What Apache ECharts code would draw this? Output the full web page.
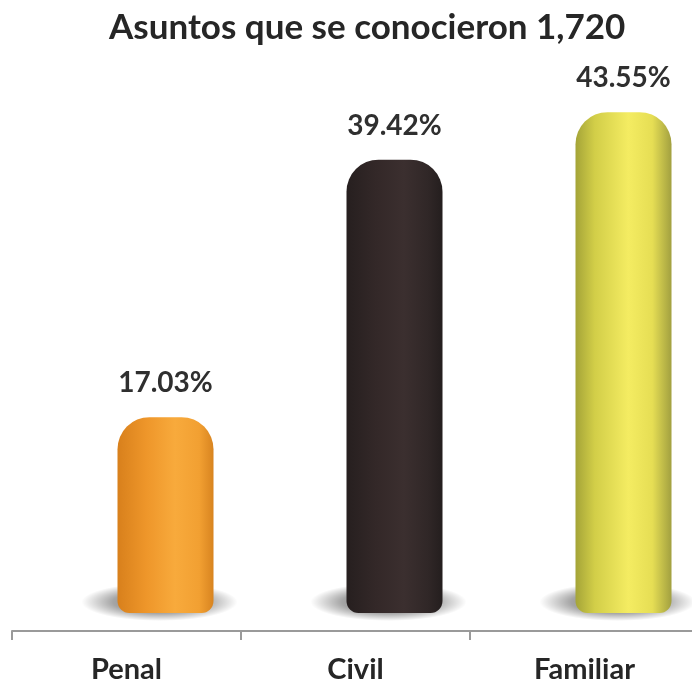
<!DOCTYPE html>
<html>
<head>
<meta charset="utf-8">
<script src="https://cdn.jsdelivr.net/npm/echarts@6/dist/echarts.min.js"></script>
<style>
html,body{margin:0;padding:0;background:#fff;}
#c{width:692px;height:685px;}
</style>
</head>
<body>
<div id="c"></div>
<script>
var titleText = 'Asuntos que se conocieron 1,720';
var categories = ['Penal', 'Civil', 'Familiar'];
var values = [17.03, 39.42, 43.55];

var gradients = [
  [['#d8801c',0],['#ee962a',0.3],['#f8aa3c',0.6],['#f2a032',0.85],['#d88420',1]],
  [['#261f1f',0],['#332828',0.3],['#3b2f2f',0.6],['#302727',0.85],['#241e1e',1]],
  [['#a4a438',0],['#d2ce48',0.2],['#f4ec62',0.55],['#e6de54',0.8],['#a2a040',1]]
];
function grad(stops){
  return {type:'linear',x:0,y:0,x2:1,y2:0,colorStops:stops.map(function(s){return {offset:s[1],color:s[0]};})};
}

var chart = echarts.init(document.getElementById('c'), null, {renderer:'canvas'});
var FONT = 'Lato';
chart.setOption({
  animation:false,
  backgroundColor:'#ffffff',
  title:{
    text:titleText,
    left:104, top:5,
    textStyle:{fontFamily:FONT,fontWeight:'bold',fontSize:35,color:'#262626'}
  },
  grid:[
    {left:12, width:687, top:38, bottom:54, containLabel:false, outerBoundsMode:'none'},
    {left:51, width:687, top:38, bottom:72, containLabel:false, outerBoundsMode:'none'}
  ],
  xAxis:[
    {type:'category', gridIndex:0, data:categories,
     axisLine:{show:true,lineStyle:{color:'#9a9a9a',width:2}},
     axisTick:{show:true,length:9,lineStyle:{color:'#9a9a9a',width:2}},
     axisLabel:{margin:24,fontFamily:FONT,fontWeight:'bold',fontSize:29,color:'#262626'}},
    {type:'category', gridIndex:1, data:categories, show:false}
  ],
  yAxis:[
    {type:'value', gridIndex:0, min:0, max:1, show:false},
    {type:'value', gridIndex:1, min:0, max:50, show:false}
  ],
  series:[
    {
      type:'pictorialBar', xAxisIndex:1, yAxisIndex:1,
      data:values, barWidth:96,
      symbol:'circle', symbolSize:[156,38], symbolPosition:'start', symbolOffset:[-6,8],
      z:1, silent:true,
      itemStyle:{color:{type:'radial',x:0.5,y:0.5,r:0.5,colorStops:[
        {offset:0,color:'rgba(0,0,0,0.6)'},{offset:0.6,color:'rgba(0,0,0,0.35)'},{offset:1,color:'rgba(0,0,0,0)'}]}}
    },
    {
      type:'bar', xAxisIndex:1, yAxisIndex:1, barWidth:96, z:3,
      data:values.map(function(v,i){return {value:v,itemStyle:{color:grad(gradients[i])}};}),
      itemStyle:{borderRadius:[32,32,12,12]},
      label:{show:true,position:'top',distance:20,
        formatter:function(p){return p.value.toFixed(2)+'%';},
        fontFamily:FONT,fontWeight:'bold',fontSize:28,color:'#2f2f2f'}
    }
  ]
});
</script>
</body>
</html>
